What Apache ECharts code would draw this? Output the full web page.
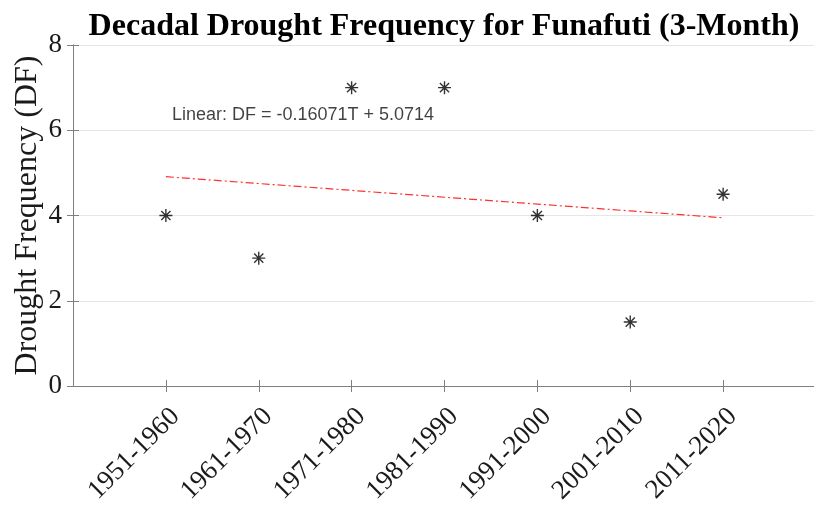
<!DOCTYPE html>
<html>
<head>
<meta charset="utf-8">
<script src="https://cdn.jsdelivr.net/npm/echarts@6/dist/echarts.min.js"></script>
<style>
  html, body { margin: 0; padding: 0; background: #fff; }
  #chart { width: 814px; height: 506px; }
</style>
</head>
<body>
<div id="chart"></div>
<script>
// Decades on the x axis (placed at positions 1..7)
const decades = ['1951-1960', '1961-1970', '1971-1980', '1981-1990', '1991-2000', '2001-2010', '2011-2020'];
// Drought frequency per decade
const droughtFreq = [4, 3, 7, 7, 4, 1.5, 4.5];
// Linear fit coefficients: DF = slope * T + intercept
const fitSlope = -0.16071;
const fitIntercept = 5.0714;
// Y axis tick values
const yTicks = [0, 2, 4, 6, 8];
// Where the fit equation text sits, in data units
const eqAnchor = [1.065, 6.36];

const positions = decades.map((d, i) => i + 1);
const points = positions.map((t, i) => [t, droughtFreq[i]]);
const fitLine = positions.map(t => [t, fitSlope * t + fitIntercept]);
const eqText = 'Linear: DF = ' + fitSlope + 'T + ' + fitIntercept;

const serif = '"Liberation Serif", "Times New Roman", serif';
const axisGray = '#7f7f7f';
const asterisk = 'path://M0,-10L0,10M-10,0L10,0M-7.07,-7.07L7.07,7.07M-7.07,7.07L7.07,-7.07';

const chart = echarts.init(document.getElementById('chart'), null, { renderer: 'canvas' });

const gridBox = { left: 73, top: 45, width: 743, height: 341, outerBoundsMode: 'none' };

chart.setOption({
  animation: false,
  backgroundColor: '#fff',
  title: {
    text: 'Decadal Drought Frequency for Funafuti (3-Month)',
    left: 439,
    textAlign: 'center',
    top: 6,
    textStyle: { fontFamily: serif, fontWeight: 'bold', fontSize: 32, color: '#000' }
  },
  grid: gridBox,
  xAxis: [{
    type: 'value', min: 0, max: 8, interval: 1,
    axisLine: { show: true, lineStyle: { color: axisGray, width: 1 } },
    axisTick: { show: true, inside: true, length: 6, customValues: positions, lineStyle: { color: axisGray } },
    axisLabel: {
      show: true, customValues: positions, rotate: 45, margin: 17, verticalAlign: 'top',
      fontFamily: serif, fontSize: 27, color: '#1a1a1a',
      formatter: v => decades[Math.round(v) - 1] || ''
    },
    splitLine: { show: false }
  }, {
    type: 'value', min: 0, max: 8, position: 'top',
    axisLine: { show: true, lineStyle: { color: axisGray, width: 1 } },
    axisTick: { show: true, inside: true, length: 6, customValues: positions, lineStyle: { color: axisGray } },
    axisLabel: { show: false },
    splitLine: { show: false }
  }],
  yAxis: [{
    type: 'value', min: 0, max: 8, interval: 2,
    name: 'Drought Frequency (DF)',
    nameLocation: 'middle', nameRotate: 90, nameGap: 29, nameMoveOverlap: false,
    nameTextStyle: { fontFamily: serif, fontSize: 32, color: '#1a1a1a' },
    axisLine: { show: true, lineStyle: { color: axisGray, width: 1 } },
    axisTick: { show: true, inside: true, length: 6, lineStyle: { color: axisGray } },
    axisLabel: {
      margin: 11, fontFamily: serif, fontSize: 27, color: '#1a1a1a',
      formatter: v => (yTicks.indexOf(v) >= 0 ? String(v) : '')
    },
    splitLine: { show: true, lineStyle: { color: '#e6e6e6', width: 1 } }
  }, {
    type: 'value', min: 0, max: 8, interval: 2, position: 'right',
    axisLine: { show: true, lineStyle: { color: axisGray, width: 1 } },
    axisTick: { show: true, inside: true, length: 6, lineStyle: { color: axisGray } },
    axisLabel: { show: false },
    splitLine: { show: false }
  }],
  series: [{
    name: 'Linear fit',
    type: 'line',
    data: fitLine,
    symbol: 'none',
    lineStyle: { color: '#ff3030', width: 1.2, type: [8, 3, 2, 3] },
    z: 2,
    silent: true
  }, {
    name: 'Drought frequency',
    type: 'scatter',
    data: points,
    symbol: asterisk,
    symbolSize: 13,
    itemStyle: { color: 'rgba(0,0,0,0)', borderColor: '#000', borderWidth: 1.4 },
    z: 3
  }, {
    name: 'Fit equation',
    type: 'scatter',
    data: [eqAnchor],
    symbolSize: 0,
    silent: true,
    label: {
      show: true, position: 'right', distance: 0,
      formatter: () => eqText,
      fontFamily: '"Liberation Sans", Arial, sans-serif', fontSize: 18, color: '#111'
    },
    z: 4
  }]
});
</script>
</body>
</html>
